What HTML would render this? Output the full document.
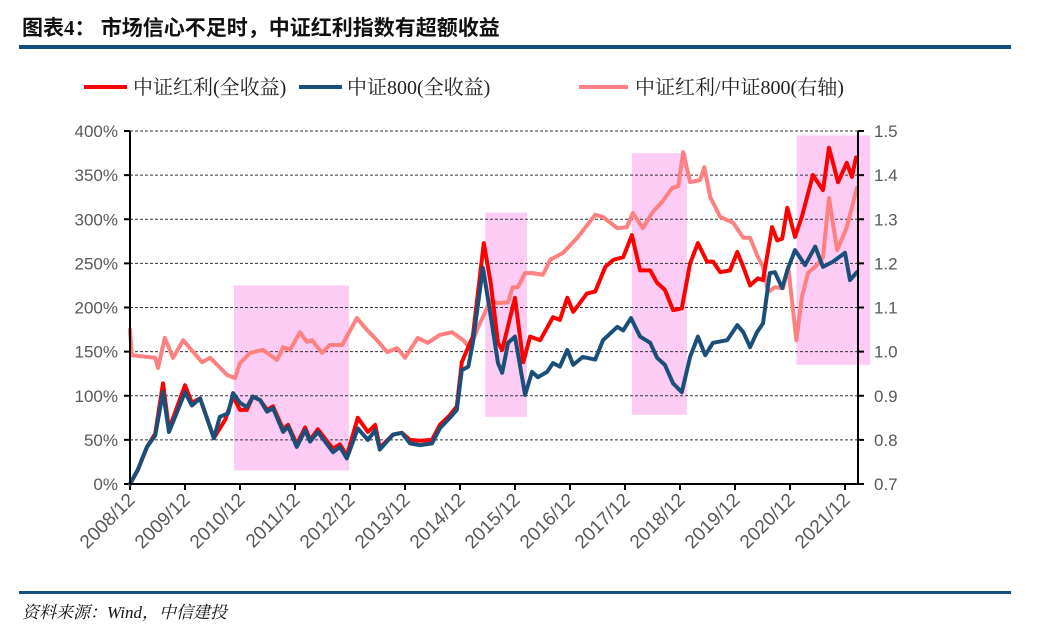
<!DOCTYPE html>
<html><head><meta charset="utf-8"><style>
body{margin:0;background:#fff;width:1040px;height:638px;overflow:hidden;font-family:"Liberation Sans","Noto Sans CJK SC",sans-serif}
</style></head><body>
<svg width="1040" height="638" xmlns="http://www.w3.org/2000/svg" id="chart">
<text x="22" y="35" font-size="21" font-weight="bold" fill="#111" font-family="Liberation Serif,Noto Sans CJK SC,sans-serif">图表4： 市场信心不足时，中证红利指数有超额收益</text>
<rect x="19" y="45" width="992" height="4" fill="#124f7e"/>
<g font-family="Liberation Serif,Noto Serif CJK SC,serif" font-size="20" fill="#222">
<g><line x1="84" y1="87" x2="127" y2="87" stroke="#ff0000" stroke-width="4"/><text x="133" y="94">中证红利(全收益)</text></g>
<g><line x1="299" y1="87" x2="342" y2="87" stroke="#1a4f7a" stroke-width="4"/><text x="347" y="94">中证800(全收益)</text></g>
<g><line x1="579" y1="87" x2="628" y2="87" stroke="#ff8080" stroke-width="4"/><text x="635" y="94">中证红利/中证800(右轴)</text></g>
</g>
<g id="plot"></g>
<rect x="19" y="591" width="992" height="3" fill="#124f7e"/>
<text x="22" y="618" font-size="17" font-style="italic" fill="#111" font-family="Liberation Serif,Noto Serif CJK SC,serif">资料来源：Wind，中信建投</text>
</svg>
<script>
// months since 2008/12
const redM=[0,1.7,3.7,5.5,7.2,8.5,12,13.5,15.3,18.3,20.8,22.5,24,25.5,26.8,28.4,29.9,31.2,33.4,34.5,36.4,38.2,39.3,41,44.3,45.8,47.3,49.7,51.9,53.5,54.5,57.4,59.3,61.1,63.3,65.9,67.6,69.8,71.3,72.4,74.8,77.2,78.7,80.3,81.2,84,85.8,87.3,89.5,92.3,93.8,95.4,96.7,99.7,101.5,103.7,105.5,107.6,109.5,111.3,113.5,115,116.7,118.5,120.4,122.2,123.9,125.9,127.2,128.8,130.9,132.5,133.8,135.3,137,138.1,140.1,141.2,142.3,143.4,145.1,146.6,149,151.2,152.5,154.5,156.4,157.5,158.4];
const redV=[0,16,42,57,114,62,112,92,97,52,73,99,84,84,99,95,84,88,62,67,45,64,50,62,40,45,32,75,59,67,41,56,58,50,49,50,67,78,88,138,167,273,228,160,152,211,138,167,163,189,186,211,195,216,218,246,254,257,282,242,242,228,220,197,199,250,273,252,252,240,242,263,246,225,233,231,291,276,278,313,280,303,350,333,381,342,364,348,370];
const blueM=[0,1.7,3.7,5.5,7.2,8.5,12,13.5,15.3,18.3,19.6,21.4,22.5,24,25.5,26.8,28.4,29.9,31.2,33.4,34.5,36.4,38.2,39.3,41,44.3,45.8,47.3,49.7,51.9,53.5,54.5,57.4,59.3,61.1,63.3,65.9,67.6,69.8,71.3,72.4,73.8,74.8,77,78.5,80.3,81.2,82.5,84,86.2,87.7,89,91,92.3,93.8,95.4,96.7,98.8,101.5,103.2,106.3,107.6,109.3,111.3,113.5,115,116.7,118.5,120.4,122.2,123.9,125.5,127.2,130.3,132.5,133.8,135.3,136.8,138.1,139.6,140.7,142.3,143.4,145.1,147.3,149.5,151.2,153.4,156,157.1,158.6];
const blueV=[0,16,42,55,104,59,104,89,97,52,76,80,103,92,87,99,95,82,86,59,65,42,61,48,59,36,42,29,63,50,61,39,56,58,46,44,46,63,75,84,129,133,160,245,197,137,126,160,167,101,127,121,127,137,133,152,135,144,141,163,178,174,188,167,160,143,135,114,104,144,167,146,160,163,180,172,155,172,182,239,240,222,242,265,248,269,246,252,262,231,240];
const pinkM=[0,0.4,3.7,5.5,6.1,7.6,9.4,11.6,15.7,17.5,21.2,22.9,24,26.2,29,32.1,33.4,34.9,37.1,38.6,39.7,41.9,43.6,46.3,49.5,51.7,53.9,56.1,58.3,60,62.8,65,67.6,70.3,72.7,74.2,76,78.7,80.1,82.5,83.5,84.6,86.2,87.9,90.1,91.7,94.5,97.6,101.5,103.2,106.3,108.4,109.7,111.9,114.1,116.1,118.3,119.6,120.7,122.2,124.4,125.3,126.6,128.8,131.6,133.8,135.3,136.8,138.1,139.2,140.7,142.5,143.6,145.4,146.6,147.9,149.9,151.2,152.5,154.3,156.4,158.6];
const pinkV=[1.05,0.992,0.988,0.986,0.963,1.031,0.986,1.026,0.976,0.986,0.947,0.94,0.974,0.997,1.004,0.981,1.01,1.004,1.044,1.022,1.026,0.997,1.015,1.015,1.076,1.049,1.026,0.999,1.008,0.986,1.031,1.02,1.038,1.044,1.026,1.008,1.056,1.117,1.11,1.112,1.146,1.146,1.178,1.178,1.174,1.208,1.224,1.258,1.31,1.305,1.28,1.282,1.314,1.28,1.317,1.339,1.371,1.375,1.452,1.384,1.389,1.418,1.35,1.305,1.292,1.258,1.258,1.219,1.192,1.135,1.146,1.144,1.192,1.026,1.124,1.178,1.196,1.214,1.348,1.23,1.282,1.371];
const leftTicks=["0%","50%","100%","150%","200%","250%","300%","350%","400%"];
const rightTicks=["0.7","0.8","0.9","1.0","1.1","1.2","1.3","1.4","1.5"];
const xLabels=["2008/12","2009/12","2010/12","2011/12","2012/12","2013/12","2014/12","2015/12","2016/12","2017/12","2018/12","2019/12","2020/12","2021/12"];
const shadeStart=[22.7,77.5,109.5,145.4];
const shadeEnd=[47.8,86.6,121.5,161.5];
const shadeTop=[1.15,1.315,1.45,1.49];
const shadeBot=[0.731,0.852,0.857,0.97];

const X0=130,X1=858,YB=484,YT=131;
const xs=m=>X0+m*55/12;
const yl=v=>YB-(v/400)*(YB-YT);
const yr=r=>YB-((r-0.7)/0.8)*(YB-YT);
const NS="http://www.w3.org/2000/svg";
const g=document.getElementById('plot');
function mk(t,a){const e=document.createElementNS(NS,t);for(const k in a)e.setAttribute(k,a[k]);g.appendChild(e);return e;}
for(let i=0;i<shadeStart.length;i++){
 const r=mk('rect',{x:xs(shadeStart[i]),y:yr(shadeTop[i]),width:xs(shadeEnd[i])-xs(shadeStart[i]),height:yr(shadeBot[i])-yr(shadeTop[i]),fill:'#fdccf5'});
 
 
}
leftTicks.forEach((t,i)=>{
 const y=yl(i*50);
 if(i>0){const l=mk('line',{x1:X0,x2:X1,y1:y,y2:y,stroke:'#333','stroke-width':1,'stroke-dasharray':'3,2'});
 
 }
 const tk=mk('line',{x1:X0-6,x2:X0,y1:y,y2:y,stroke:'#000','stroke-width':2});
 
 
 const tx=mk('text',{x:X0-12,y:y+6,'text-anchor':'end','font-size':17,fill:'#595959'});tx.textContent=t;
 
 
});
rightTicks.forEach((t,i)=>{
 const y=yr(0.7+i*0.1);
 const tk=mk('line',{x1:X1,x2:X1+6,y1:y,y2:y,stroke:'#000','stroke-width':2});
 
 
 const tx=mk('text',{x:X1+16,y:y+6,'font-size':17,fill:'#595959'});tx.textContent=t;
 
 
});
xLabels.forEach((t,i)=>{
 const x=xs(i*12);
 const tk=mk('line',{x1:x,x2:x,y1:YB,y2:YB+6,stroke:'#000','stroke-width':2});
 
 
 const tx=mk('text',{x:x+6,y:YB+17,'text-anchor':'end','font-size':19,fill:'#595959',transform:`rotate(-45 ${x+6} ${YB+17})`});tx.textContent=t;
 
 
});
function series(M,V,fy,col,name){
 const d=M.map((m,i)=>(i?'L':'M')+xs(m).toFixed(1)+','+fy(V[i]).toFixed(1)).join('');
 const p=mk('path',{d:d,fill:'none',stroke:col,'stroke-width':4,'stroke-linejoin':'round','stroke-linecap':'round'});
 
 
}
series(pinkM,pinkV,yr,'#ff8080','ratio-line');
series(redM,redV,yl,'#ff0000','dividend-line');
series(blueM,blueV,yl,'#1a4f7a','csi800-line');
const ax=mk('line',{x1:X0,x2:X0,y1:YT,y2:YB,stroke:'#000','stroke-width':2});


const ax2=mk('line',{x1:X1,x2:X1,y1:YT,y2:YB,stroke:'#000','stroke-width':2});


const ax3=mk('line',{x1:X0,x2:X1,y1:YB,y2:YB,stroke:'#000','stroke-width':2});


</script>
</body></html>
